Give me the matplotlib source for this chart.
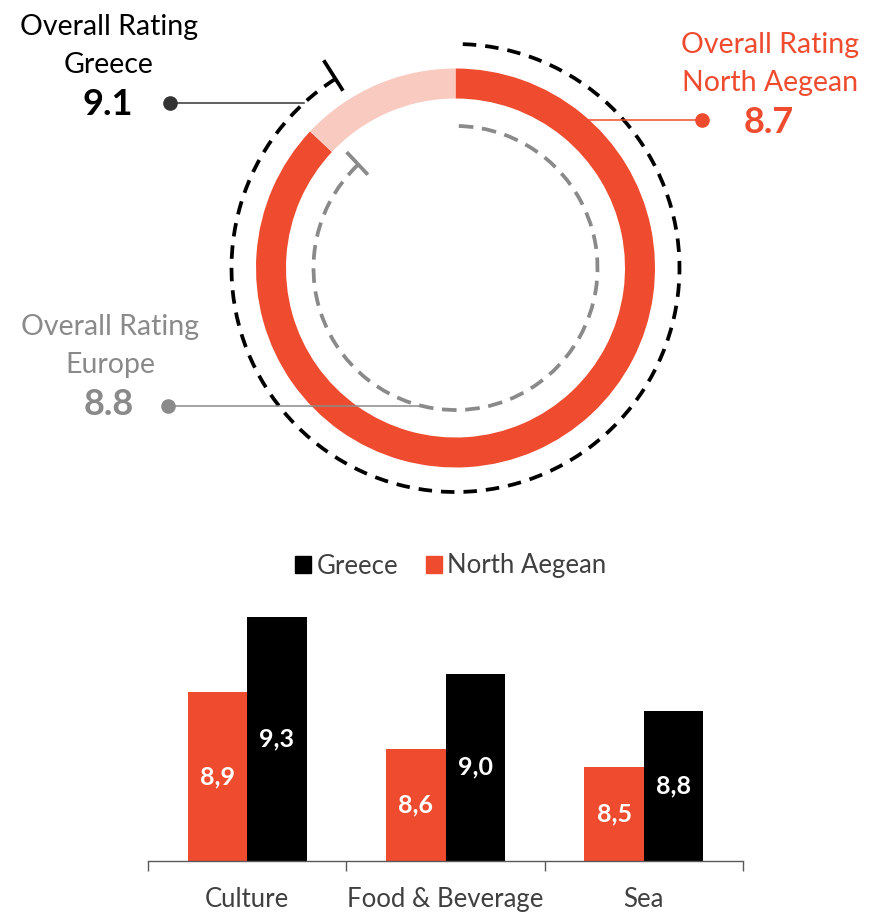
import matplotlib
matplotlib.use('Agg')
import matplotlib.pyplot as plt
from matplotlib.patches import Arc, Patch
import numpy as np

plt.rcParams['font.family'] = ['Lato', 'DejaVu Sans']

# ---------------- data ----------------
overall_names = ['Greece', 'North Aegean', 'Europe']
overall_values = [9.1, 8.7, 8.8]
rating_max = 10.0

categories = ['Culture', 'Food & Beverage', 'Sea']
north_aegean = [8.9, 8.6, 8.5]
greece = [9.3, 9.0, 8.8]
series_names = ['Greece', 'North Aegean']

# ---------------- style ----------------
RED = '#EF4B2F'
PINK = '#F9CBC0'
GRAY = '#8A8A8A'
BLACK = '#000000'
TXT = '#404040'

W, H = 871, 916
fig = plt.figure(figsize=(W / 100, H / 100), dpi=100)

# ---------------- donut panel (pixel coordinates) ----------------
ax = fig.add_axes([0, 0, 1, 1])

def Y(ypx):
    return H - ypx

cx, cy = 455.5, Y(268)
r_ring = 199.5
ring_w = 30
r_greece = 224
r_europe = 142

g_val, na_val, eu_val = overall_values

ax.pie([na_val, rating_max - na_val], colors=[RED, PINK], startangle=90,
       counterclock=False, radius=r_ring, center=(cx, cy),
       wedgeprops=dict(width=ring_w, edgecolor='none', linewidth=0))

def arc_with_tick(val, r, color, lw, dash, tick_r):
    frac = val / rating_max
    t1 = 90 - 360 * frac
    arc = Arc((cx, cy), 2 * r, 2 * r, theta1=t1, theta2=90, color=color,
              lw=lw, linestyle=(0, dash), capstyle='butt', zorder=3)
    ax.add_patch(arc)
    a = np.radians(t1)
    rr = np.array(tick_r)
    ax.plot(cx + rr * np.cos(a), cy + rr * np.sin(a), color=color, lw=lw,
            solid_capstyle='butt', zorder=3)

arc_with_tick(g_val, r_greece, BLACK, 2.7, (3.6, 2.4), (210, 246))
arc_with_tick(eu_val, r_europe, GRAY, 2.7, (3.9, 2.3), (128, 159))

# leader lines + dots
def leader(x0, x1, ypx, color, dot_x):
    ax.plot([x0, x1], [Y(ypx), Y(ypx)], color=color, lw=1.1, zorder=4)
    ax.plot([dot_x], [Y(ypx)], 'o', color=color, ms=9.5, zorder=5)

# Greece
yg = 103
xg_end = cx - np.sqrt(r_greece ** 2 - (Y(yg) - cy) ** 2)
leader(170, xg_end, yg, '#333333', 170)
# North Aegean
yn = 120
xn_start = cx + np.sqrt(r_ring ** 2 - (Y(yn) - cy) ** 2)
leader(xn_start, 702, yn, RED, 702)
# Europe
ye = 405.5
xe_end = cx - np.sqrt(r_europe ** 2 - (Y(ye) - cy) ** 2)
leader(168, xe_end, ye, GRAY, 168)

FS_LAB = 20.5
FS_VAL = 26
def label_block(xc, base1, name, val, color):
    ax.text(xc, Y(base1), 'Overall Rating', ha='center', va='baseline',
            fontsize=FS_LAB, color=color)
    ax.text(xc, Y(base1 + 38), name, ha='center', va='baseline',
            fontsize=FS_LAB, color=color)
    ax.text(xc - 1, Y(base1 + 80), f'{val:.1f}', ha='center', va='baseline',
            fontsize=FS_VAL, fontweight='bold', color=color)

label_block(109, 35, overall_names[0], g_val, BLACK)
label_block(770, 53, overall_names[1], na_val, RED)
label_block(110, 335, overall_names[2], eu_val, GRAY)

ax.set_xlim(0, W)
ax.set_ylim(0, H)
ax.set_aspect('auto')
ax.axis('off')

# ---------------- bar panel ----------------
ymin, ymax = 8.0, 9.4
px_per_unit = 187.5
bx0, bx1 = 148, 743
by0 = 861
bax = fig.add_axes([bx0 / W, (H - by0) / H, (bx1 - bx0) / W,
                    (ymax - ymin) * px_per_unit / H])
x = np.arange(len(categories))
bw = 0.30
bax.bar(x - bw / 2, [v - ymin for v in north_aegean], bw, bottom=ymin,
        color=RED, label=series_names[1])
bax.bar(x + bw / 2, [v - ymin for v in greece], bw, bottom=ymin,
        color=BLACK, label=series_names[0])
for xi, v in zip(x - bw / 2, north_aegean):
    bax.text(xi, (ymin + v) / 2, f'{v:.1f}'.replace('.', ','), ha='center',
             va='center', color='white', fontsize=18, fontweight='bold')
for xi, v in zip(x + bw / 2, greece):
    bax.text(xi, (ymin + v) / 2, f'{v:.1f}'.replace('.', ','), ha='center',
             va='center', color='white', fontsize=18, fontweight='bold')

bax.set_xlim(-0.5, len(categories) - 0.5)
bax.set_ylim(ymin, ymax)
for s in ['top', 'right', 'left']:
    bax.spines[s].set_visible(False)
bax.spines['bottom'].set_color('#595959')
bax.spines['bottom'].set_linewidth(1.0)
bax.set_yticks([])
bax.set_xticks(x)
bax.set_xticklabels(categories, fontsize=18.5, color=TXT)
bax.tick_params(axis='x', which='major', length=0, pad=19)
bax.set_xticks(np.arange(-0.5, len(categories)), minor=True)
bax.tick_params(axis='x', which='minor', length=7, width=1.0, color='#595959',
                direction='out')

handles = [Patch(color=BLACK), Patch(color=RED)]
fig.legend(handles, series_names, loc='center', ncol=2, frameon=False,
           bbox_to_anchor=(451 / W, 1 - 566 / H), fontsize=18.5,
           handlelength=0.62, handleheight=0.62, handletextpad=0.2,
           columnspacing=1.1, labelcolor=TXT)

fig.savefig('out.png', dpi=100)
